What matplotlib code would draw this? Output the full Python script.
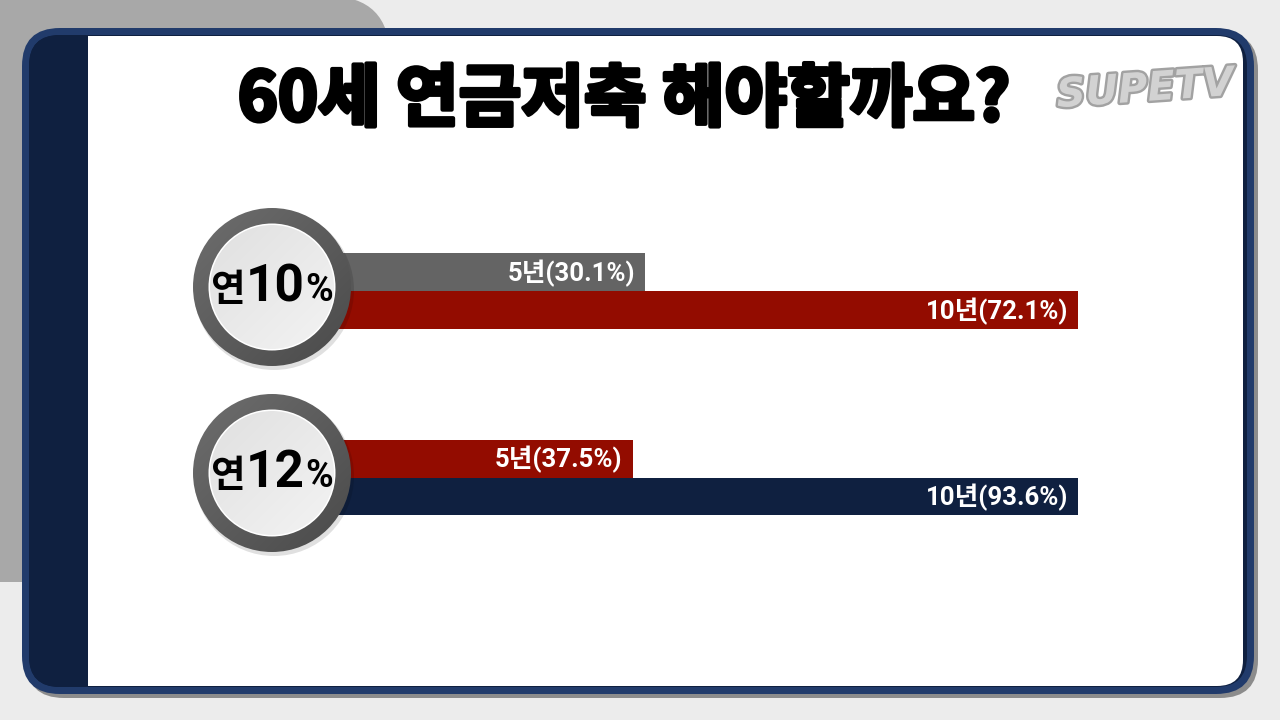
import numpy as np
import matplotlib
matplotlib.use("Agg")
from matplotlib import pyplot as plt
from matplotlib.patches import FancyBboxPatch, Circle, Rectangle
from matplotlib.colors import LinearSegmentedColormap
import matplotlib.patheffects as pe

# chart data
title = "60세 연금저축 해야할까요?"
rates = ["10", "12"]
periods = ["5년", "10년"]
growth_10 = [30.1, 72.1]
growth_12 = [37.5, 93.6]
colors_10 = ["#646464", "#930c00"]
colors_12 = ["#930c00", "#0f2040"]

W, H = 1280, 720
KR = ["Noto Sans CJK KR", "DejaVu Sans"]
NUM = ["Roboto", "Noto Sans CJK KR", "DejaVu Sans"]

fig = plt.figure(figsize=(W / 100, H / 100), dpi=100)
fig.patch.set_facecolor("#ececec")


def px_axes(z):
    ax = fig.add_axes([0, 0, 1, 1], zorder=z)
    ax.set_xlim(0, W)
    ax.set_ylim(H, 0)
    ax.axis("off")
    ax.patch.set_alpha(0)
    return ax


def rbox(ax, x0, y0, x1, y1, r, color, z):
    p = FancyBboxPatch((x0, y0), x1 - x0, y1 - y0,
                       boxstyle=f"round,pad=0,rounding_size={r}",
                       fc=color, ec="none", zorder=z)
    ax.add_patch(p)
    return p


def shaded_disk(ax, cx, cy, r, c0, c1, z):
    g = np.linspace(0, 1, 200)
    xx, yy = np.meshgrid(g, g)
    cmap = LinearSegmentedColormap.from_list("shade", [c0, c1])
    im = ax.imshow((xx + yy) / 2, cmap=cmap, extent=(cx - r, cx + r, cy + r, cy - r),
                   zorder=z, interpolation="bilinear", aspect="auto")
    clip = Circle((cx, cy), r, fc="none", ec="none")
    ax.add_patch(clip)
    im.set_clip_path(clip)


# background frame
bg = px_axes(0)
rbox(bg, -100, -4, 390, 582, 62, "#a8a8a8", 1)
rbox(bg, 26, 32, 1258, 698, 38, "#8c8c8c", 2)
rbox(bg, 22, 28, 1254, 694, 38, "#213b6b", 3)
inner = rbox(bg, 29, 35, 1247, 687, 31, "#0f2040", 4)
rbox(bg, 58, 36, 1243, 686, 26, "white", 5)
strip = Rectangle((29, 35), 59, 652, fc="#0f2040", ec="none", zorder=6)
bg.add_patch(strip)
strip.set_clip_path(inner)

bg.text(624, 101, title, ha="center", va="center", fontsize=49,
        fontweight="black", family=KR, color="black", zorder=7,
        path_effects=[pe.withStroke(linewidth=3, foreground="black")])

# logo
bg.text(1145, 90, "SUPETV", ha="center", va="center", fontsize=29, fontweight="black",
        fontstyle="italic", family=["DejaVu Sans"], color="#d2d2d2", zorder=7,
        rotation=4,
        path_effects=[pe.withStroke(linewidth=3.5, foreground="#a2a2a2")])


# bar groups, each scaled to its own longest bar
def bar_group(vals, cols, top, bottom):
    ax = fig.add_axes([335 / W, 1 - bottom / H, (1078 - 335) / W, (bottom - top) / H], zorder=1)
    ax.barh(range(len(vals)), vals, height=1.0, color=cols)
    ax.set_xlim(0, max(vals))
    ax.set_ylim(len(vals) - 0.5, -0.5)
    ax.axis("off")
    for i, v in enumerate(vals):
        ax.annotate(f"{periods[i]}({v}%)", (v, i), xytext=(-10, -1), textcoords="offset pixels",
                    ha="right", va="center", color="white", fontsize=18.5,
                    fontweight="bold", family=NUM)


bar_group(growth_10, colors_10, 253, 329)
bar_group(growth_12, colors_12, 440, 515)

# rate badges
ov = px_axes(3)
renderer = fig.canvas.get_renderer()
for rate, cy in zip(rates, [287, 473]):
    cx = 272
    ov.add_patch(Circle((cx + 2, cy + 3), 80, fc="#000000", alpha=0.12, ec="none", zorder=1))
    shaded_disk(ov, cx, cy, 79, "#6e6e6e", "#4a4a4a", 2)
    ov.add_patch(Circle((cx, cy), 63.5, fc="white", ec="none", zorder=3))
    shaded_disk(ov, cx, cy, 62, "#e0e0e0", "#f3f3f3", 4)

    # "연" + rate + "%" laid side by side, centred in the badge
    parts = [("연", 27, KR, "bold"), (rate, 37, NUM, "bold"), ("%", 27, NUM, "bold")]
    texts = []
    for s, size, fam, wt in parts:
        texts.append(ov.text(0, cy + 14, s, ha="left", va="baseline", fontsize=size,
                             fontweight=wt, family=fam, color="black", zorder=5))
    widths = [t.get_window_extent(renderer).width for t in texts]
    x = cx - sum(widths) / 2
    for t, w in zip(texts, widths):
        t.set_x(x)
        x += w
ov.set_xlim(0, W)
ov.set_ylim(H, 0)

fig.savefig("out.png", dpi=100)
